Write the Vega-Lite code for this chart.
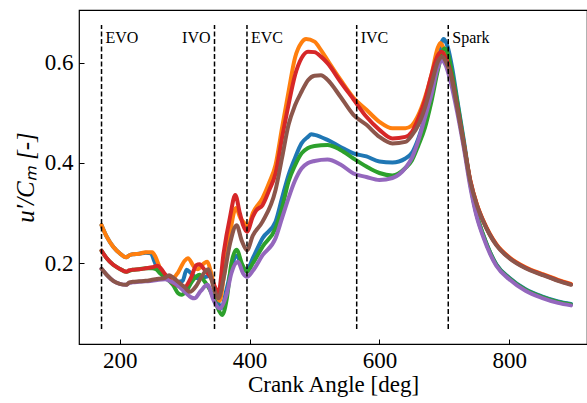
{
  "$schema": "https://vega.github.io/schema/vega-lite/v6.json",
  "autosize": "none",
  "width": 508,
  "height": 334,
  "padding": {"left": 79, "top": 10, "right": 0, "bottom": 59},
  "background": "white",
  "config": {
    "view": {"stroke": "#000", "strokeWidth": 1.2},
    "font": "Liberation Serif",
    "axis": {"grid": false, "domain": false, "tickColor": "#000", "labelColor": "#000", "titleColor": "#000", "labelFont": "Liberation Serif", "titleFont": "Liberation Serif", "titleFontWeight": "normal", "tickSize": -5, "tickWidth": 1}
  },
  "datasets": {
    "curves": [
      {"s": "s1", "x": 172, "y": 0.276}, {"s": "s1", "x": 180, "y": 0.253}, {"s": "s1", "x": 190, "y": 0.233}, {"s": "s1", "x": 200, "y": 0.22}, {"s": "s1", "x": 210, "y": 0.212}, {"s": "s1", "x": 215, "y": 0.216}, {"s": "s1", "x": 220, "y": 0.218}, {"s": "s1", "x": 230, "y": 0.219}, {"s": "s1", "x": 240, "y": 0.221}, {"s": "s1", "x": 248, "y": 0.22}, {"s": "s1", "x": 253, "y": 0.205}, {"s": "s1", "x": 258, "y": 0.19}, {"s": "s1", "x": 265, "y": 0.178}, {"s": "s1", "x": 270, "y": 0.175}, {"s": "s1", "x": 280, "y": 0.17}, {"s": "s1", "x": 290, "y": 0.163}, {"s": "s1", "x": 297, "y": 0.165}, {"s": "s1", "x": 303, "y": 0.187}, {"s": "s1", "x": 310, "y": 0.18}, {"s": "s1", "x": 320, "y": 0.17}, {"s": "s1", "x": 330, "y": 0.172}, {"s": "s1", "x": 340, "y": 0.175}, {"s": "s1", "x": 348, "y": 0.14}, {"s": "s1", "x": 356, "y": 0.11}, {"s": "s1", "x": 365, "y": 0.15}, {"s": "s1", "x": 372, "y": 0.19}, {"s": "s1", "x": 380, "y": 0.215}, {"s": "s1", "x": 388, "y": 0.195}, {"s": "s1", "x": 396, "y": 0.187}, {"s": "s1", "x": 405, "y": 0.21}, {"s": "s1", "x": 420, "y": 0.25}, {"s": "s1", "x": 440, "y": 0.283}, {"s": "s1", "x": 450, "y": 0.33}, {"s": "s1", "x": 460, "y": 0.376}, {"s": "s1", "x": 470, "y": 0.41}, {"s": "s1", "x": 480, "y": 0.439}, {"s": "s1", "x": 490, "y": 0.452}, {"s": "s1", "x": 495, "y": 0.457}, {"s": "s1", "x": 500, "y": 0.456}, {"s": "s1", "x": 520, "y": 0.446}, {"s": "s1", "x": 540, "y": 0.432}, {"s": "s1", "x": 560, "y": 0.419}, {"s": "s1", "x": 580, "y": 0.413}, {"s": "s1", "x": 600, "y": 0.403}, {"s": "s1", "x": 620, "y": 0.401}, {"s": "s1", "x": 640, "y": 0.409}, {"s": "s1", "x": 650, "y": 0.42}, {"s": "s1", "x": 660, "y": 0.449}, {"s": "s1", "x": 670, "y": 0.49}, {"s": "s1", "x": 680, "y": 0.542}, {"s": "s1", "x": 690, "y": 0.61}, {"s": "s1", "x": 699, "y": 0.647}, {"s": "s1", "x": 705, "y": 0.632}, {"s": "s1", "x": 712, "y": 0.59}, {"s": "s1", "x": 720, "y": 0.525}, {"s": "s1", "x": 730, "y": 0.445}, {"s": "s1", "x": 740, "y": 0.36}, {"s": "s1", "x": 750, "y": 0.296}, {"s": "s1", "x": 760, "y": 0.256}, {"s": "s1", "x": 780, "y": 0.198}, {"s": "s1", "x": 800, "y": 0.171}, {"s": "s1", "x": 825, "y": 0.148}, {"s": "s1", "x": 850, "y": 0.134}, {"s": "s1", "x": 875, "y": 0.124}, {"s": "s1", "x": 895, "y": 0.119},

      {"s": "s2", "x": 172, "y": 0.276}, {"s": "s2", "x": 180, "y": 0.253}, {"s": "s2", "x": 190, "y": 0.233}, {"s": "s2", "x": 200, "y": 0.22}, {"s": "s2", "x": 210, "y": 0.212}, {"s": "s2", "x": 215, "y": 0.216}, {"s": "s2", "x": 220, "y": 0.218}, {"s": "s2", "x": 230, "y": 0.219}, {"s": "s2", "x": 240, "y": 0.222}, {"s": "s2", "x": 250, "y": 0.222}, {"s": "s2", "x": 255, "y": 0.213}, {"s": "s2", "x": 260, "y": 0.197}, {"s": "s2", "x": 265, "y": 0.182}, {"s": "s2", "x": 270, "y": 0.176}, {"s": "s2", "x": 280, "y": 0.168}, {"s": "s2", "x": 290, "y": 0.182}, {"s": "s2", "x": 300, "y": 0.205}, {"s": "s2", "x": 305, "y": 0.21}, {"s": "s2", "x": 315, "y": 0.192}, {"s": "s2", "x": 320, "y": 0.188}, {"s": "s2", "x": 330, "y": 0.2}, {"s": "s2", "x": 335, "y": 0.203}, {"s": "s2", "x": 340, "y": 0.185}, {"s": "s2", "x": 348, "y": 0.14}, {"s": "s2", "x": 354, "y": 0.125}, {"s": "s2", "x": 360, "y": 0.17}, {"s": "s2", "x": 370, "y": 0.26}, {"s": "s2", "x": 379, "y": 0.31}, {"s": "s2", "x": 386, "y": 0.29}, {"s": "s2", "x": 392, "y": 0.28}, {"s": "s2", "x": 398, "y": 0.274}, {"s": "s2", "x": 405, "y": 0.3}, {"s": "s2", "x": 420, "y": 0.33}, {"s": "s2", "x": 430, "y": 0.36}, {"s": "s2", "x": 440, "y": 0.396}, {"s": "s2", "x": 450, "y": 0.47}, {"s": "s2", "x": 460, "y": 0.542}, {"s": "s2", "x": 470, "y": 0.61}, {"s": "s2", "x": 480, "y": 0.64}, {"s": "s2", "x": 487, "y": 0.647}, {"s": "s2", "x": 500, "y": 0.642}, {"s": "s2", "x": 510, "y": 0.625}, {"s": "s2", "x": 520, "y": 0.605}, {"s": "s2", "x": 540, "y": 0.566}, {"s": "s2", "x": 560, "y": 0.53}, {"s": "s2", "x": 580, "y": 0.506}, {"s": "s2", "x": 600, "y": 0.482}, {"s": "s2", "x": 620, "y": 0.469}, {"s": "s2", "x": 640, "y": 0.469}, {"s": "s2", "x": 650, "y": 0.475}, {"s": "s2", "x": 660, "y": 0.496}, {"s": "s2", "x": 670, "y": 0.53}, {"s": "s2", "x": 680, "y": 0.575}, {"s": "s2", "x": 690, "y": 0.63}, {"s": "s2", "x": 694, "y": 0.639}, {"s": "s2", "x": 700, "y": 0.625}, {"s": "s2", "x": 710, "y": 0.58}, {"s": "s2", "x": 720, "y": 0.511}, {"s": "s2", "x": 730, "y": 0.438}, {"s": "s2", "x": 740, "y": 0.365}, {"s": "s2", "x": 750, "y": 0.318}, {"s": "s2", "x": 760, "y": 0.285}, {"s": "s2", "x": 780, "y": 0.238}, {"s": "s2", "x": 800, "y": 0.212}, {"s": "s2", "x": 825, "y": 0.192}, {"s": "s2", "x": 850, "y": 0.179}, {"s": "s2", "x": 875, "y": 0.167}, {"s": "s2", "x": 895, "y": 0.159},

      {"s": "s3", "x": 172, "y": 0.225}, {"s": "s3", "x": 180, "y": 0.21}, {"s": "s3", "x": 190, "y": 0.197}, {"s": "s3", "x": 200, "y": 0.189}, {"s": "s3", "x": 210, "y": 0.183}, {"s": "s3", "x": 220, "y": 0.187}, {"s": "s3", "x": 230, "y": 0.188}, {"s": "s3", "x": 240, "y": 0.19}, {"s": "s3", "x": 250, "y": 0.19}, {"s": "s3", "x": 256, "y": 0.188}, {"s": "s3", "x": 262, "y": 0.18}, {"s": "s3", "x": 270, "y": 0.172}, {"s": "s3", "x": 282, "y": 0.157}, {"s": "s3", "x": 290, "y": 0.14}, {"s": "s3", "x": 295, "y": 0.137}, {"s": "s3", "x": 303, "y": 0.145}, {"s": "s3", "x": 311, "y": 0.163}, {"s": "s3", "x": 323, "y": 0.177}, {"s": "s3", "x": 330, "y": 0.165}, {"s": "s3", "x": 339, "y": 0.147}, {"s": "s3", "x": 348, "y": 0.12}, {"s": "s3", "x": 358, "y": 0.097}, {"s": "s3", "x": 365, "y": 0.13}, {"s": "s3", "x": 372, "y": 0.2}, {"s": "s3", "x": 380, "y": 0.227}, {"s": "s3", "x": 388, "y": 0.2}, {"s": "s3", "x": 396, "y": 0.183}, {"s": "s3", "x": 405, "y": 0.2}, {"s": "s3", "x": 420, "y": 0.233}, {"s": "s3", "x": 440, "y": 0.27}, {"s": "s3", "x": 450, "y": 0.31}, {"s": "s3", "x": 460, "y": 0.363}, {"s": "s3", "x": 470, "y": 0.395}, {"s": "s3", "x": 480, "y": 0.419}, {"s": "s3", "x": 490, "y": 0.43}, {"s": "s3", "x": 500, "y": 0.434}, {"s": "s3", "x": 520, "y": 0.436}, {"s": "s3", "x": 540, "y": 0.426}, {"s": "s3", "x": 560, "y": 0.409}, {"s": "s3", "x": 580, "y": 0.393}, {"s": "s3", "x": 600, "y": 0.38}, {"s": "s3", "x": 620, "y": 0.375}, {"s": "s3", "x": 640, "y": 0.39}, {"s": "s3", "x": 650, "y": 0.405}, {"s": "s3", "x": 660, "y": 0.435}, {"s": "s3", "x": 670, "y": 0.47}, {"s": "s3", "x": 680, "y": 0.522}, {"s": "s3", "x": 690, "y": 0.585}, {"s": "s3", "x": 700, "y": 0.628}, {"s": "s3", "x": 705, "y": 0.62}, {"s": "s3", "x": 712, "y": 0.578}, {"s": "s3", "x": 720, "y": 0.52}, {"s": "s3", "x": 730, "y": 0.44}, {"s": "s3", "x": 740, "y": 0.358}, {"s": "s3", "x": 750, "y": 0.296}, {"s": "s3", "x": 760, "y": 0.256}, {"s": "s3", "x": 780, "y": 0.197}, {"s": "s3", "x": 800, "y": 0.17}, {"s": "s3", "x": 825, "y": 0.147}, {"s": "s3", "x": 850, "y": 0.133}, {"s": "s3", "x": 875, "y": 0.123}, {"s": "s3", "x": 895, "y": 0.118},

      {"s": "s4", "x": 172, "y": 0.225}, {"s": "s4", "x": 180, "y": 0.21}, {"s": "s4", "x": 190, "y": 0.197}, {"s": "s4", "x": 200, "y": 0.189}, {"s": "s4", "x": 210, "y": 0.183}, {"s": "s4", "x": 215, "y": 0.186}, {"s": "s4", "x": 220, "y": 0.187}, {"s": "s4", "x": 230, "y": 0.188}, {"s": "s4", "x": 240, "y": 0.19}, {"s": "s4", "x": 250, "y": 0.192}, {"s": "s4", "x": 258, "y": 0.195}, {"s": "s4", "x": 263, "y": 0.19}, {"s": "s4", "x": 270, "y": 0.178}, {"s": "s4", "x": 280, "y": 0.163}, {"s": "s4", "x": 290, "y": 0.155}, {"s": "s4", "x": 300, "y": 0.153}, {"s": "s4", "x": 310, "y": 0.172}, {"s": "s4", "x": 318, "y": 0.196}, {"s": "s4", "x": 323, "y": 0.198}, {"s": "s4", "x": 330, "y": 0.188}, {"s": "s4", "x": 340, "y": 0.172}, {"s": "s4", "x": 346, "y": 0.155}, {"s": "s4", "x": 352, "y": 0.14}, {"s": "s4", "x": 360, "y": 0.22}, {"s": "s4", "x": 370, "y": 0.293}, {"s": "s4", "x": 378, "y": 0.336}, {"s": "s4", "x": 385, "y": 0.3}, {"s": "s4", "x": 390, "y": 0.276}, {"s": "s4", "x": 396, "y": 0.263}, {"s": "s4", "x": 405, "y": 0.293}, {"s": "s4", "x": 410, "y": 0.305}, {"s": "s4", "x": 420, "y": 0.316}, {"s": "s4", "x": 430, "y": 0.345}, {"s": "s4", "x": 440, "y": 0.379}, {"s": "s4", "x": 450, "y": 0.45}, {"s": "s4", "x": 460, "y": 0.516}, {"s": "s4", "x": 470, "y": 0.575}, {"s": "s4", "x": 480, "y": 0.609}, {"s": "s4", "x": 490, "y": 0.622}, {"s": "s4", "x": 500, "y": 0.621}, {"s": "s4", "x": 510, "y": 0.612}, {"s": "s4", "x": 520, "y": 0.599}, {"s": "s4", "x": 540, "y": 0.562}, {"s": "s4", "x": 560, "y": 0.527}, {"s": "s4", "x": 580, "y": 0.492}, {"s": "s4", "x": 600, "y": 0.466}, {"s": "s4", "x": 620, "y": 0.449}, {"s": "s4", "x": 640, "y": 0.452}, {"s": "s4", "x": 650, "y": 0.462}, {"s": "s4", "x": 660, "y": 0.489}, {"s": "s4", "x": 670, "y": 0.525}, {"s": "s4", "x": 680, "y": 0.575}, {"s": "s4", "x": 690, "y": 0.615}, {"s": "s4", "x": 696, "y": 0.622}, {"s": "s4", "x": 702, "y": 0.61}, {"s": "s4", "x": 710, "y": 0.578}, {"s": "s4", "x": 720, "y": 0.51}, {"s": "s4", "x": 730, "y": 0.437}, {"s": "s4", "x": 740, "y": 0.364}, {"s": "s4", "x": 750, "y": 0.317}, {"s": "s4", "x": 760, "y": 0.284}, {"s": "s4", "x": 780, "y": 0.237}, {"s": "s4", "x": 800, "y": 0.211}, {"s": "s4", "x": 825, "y": 0.191}, {"s": "s4", "x": 850, "y": 0.178}, {"s": "s4", "x": 875, "y": 0.166}, {"s": "s4", "x": 895, "y": 0.158},

      {"s": "s5", "x": 172, "y": 0.189}, {"s": "s5", "x": 180, "y": 0.177}, {"s": "s5", "x": 190, "y": 0.165}, {"s": "s5", "x": 200, "y": 0.159}, {"s": "s5", "x": 210, "y": 0.157}, {"s": "s5", "x": 215, "y": 0.161}, {"s": "s5", "x": 220, "y": 0.162}, {"s": "s5", "x": 230, "y": 0.163}, {"s": "s5", "x": 240, "y": 0.164}, {"s": "s5", "x": 250, "y": 0.165}, {"s": "s5", "x": 260, "y": 0.167}, {"s": "s5", "x": 270, "y": 0.168}, {"s": "s5", "x": 280, "y": 0.163}, {"s": "s5", "x": 290, "y": 0.155}, {"s": "s5", "x": 300, "y": 0.143}, {"s": "s5", "x": 310, "y": 0.132}, {"s": "s5", "x": 315, "y": 0.13}, {"s": "s5", "x": 325, "y": 0.145}, {"s": "s5", "x": 335, "y": 0.157}, {"s": "s5", "x": 345, "y": 0.125}, {"s": "s5", "x": 354, "y": 0.11}, {"s": "s5", "x": 365, "y": 0.14}, {"s": "s5", "x": 372, "y": 0.18}, {"s": "s5", "x": 382, "y": 0.203}, {"s": "s5", "x": 390, "y": 0.18}, {"s": "s5", "x": 396, "y": 0.173}, {"s": "s5", "x": 405, "y": 0.185}, {"s": "s5", "x": 420, "y": 0.216}, {"s": "s5", "x": 440, "y": 0.25}, {"s": "s5", "x": 450, "y": 0.29}, {"s": "s5", "x": 460, "y": 0.33}, {"s": "s5", "x": 470, "y": 0.365}, {"s": "s5", "x": 480, "y": 0.389}, {"s": "s5", "x": 490, "y": 0.4}, {"s": "s5", "x": 500, "y": 0.404}, {"s": "s5", "x": 520, "y": 0.407}, {"s": "s5", "x": 540, "y": 0.397}, {"s": "s5", "x": 560, "y": 0.379}, {"s": "s5", "x": 580, "y": 0.372}, {"s": "s5", "x": 600, "y": 0.366}, {"s": "s5", "x": 620, "y": 0.37}, {"s": "s5", "x": 640, "y": 0.39}, {"s": "s5", "x": 650, "y": 0.41}, {"s": "s5", "x": 660, "y": 0.445}, {"s": "s5", "x": 670, "y": 0.49}, {"s": "s5", "x": 680, "y": 0.536}, {"s": "s5", "x": 690, "y": 0.59}, {"s": "s5", "x": 696, "y": 0.605}, {"s": "s5", "x": 702, "y": 0.595}, {"s": "s5", "x": 710, "y": 0.56}, {"s": "s5", "x": 720, "y": 0.5}, {"s": "s5", "x": 730, "y": 0.43}, {"s": "s5", "x": 740, "y": 0.352}, {"s": "s5", "x": 750, "y": 0.292}, {"s": "s5", "x": 760, "y": 0.252}, {"s": "s5", "x": 780, "y": 0.195}, {"s": "s5", "x": 800, "y": 0.168}, {"s": "s5", "x": 825, "y": 0.145}, {"s": "s5", "x": 850, "y": 0.131}, {"s": "s5", "x": 875, "y": 0.121}, {"s": "s5", "x": 895, "y": 0.116},

      {"s": "s6", "x": 172, "y": 0.189}, {"s": "s6", "x": 180, "y": 0.177}, {"s": "s6", "x": 190, "y": 0.165}, {"s": "s6", "x": 200, "y": 0.159}, {"s": "s6", "x": 210, "y": 0.157}, {"s": "s6", "x": 215, "y": 0.162}, {"s": "s6", "x": 220, "y": 0.163}, {"s": "s6", "x": 230, "y": 0.164}, {"s": "s6", "x": 240, "y": 0.165}, {"s": "s6", "x": 250, "y": 0.167}, {"s": "s6", "x": 260, "y": 0.169}, {"s": "s6", "x": 270, "y": 0.171}, {"s": "s6", "x": 276, "y": 0.176}, {"s": "s6", "x": 282, "y": 0.172}, {"s": "s6", "x": 290, "y": 0.163}, {"s": "s6", "x": 300, "y": 0.152}, {"s": "s6", "x": 308, "y": 0.143}, {"s": "s6", "x": 318, "y": 0.155}, {"s": "s6", "x": 326, "y": 0.173}, {"s": "s6", "x": 336, "y": 0.188}, {"s": "s6", "x": 345, "y": 0.15}, {"s": "s6", "x": 352, "y": 0.13}, {"s": "s6", "x": 360, "y": 0.17}, {"s": "s6", "x": 370, "y": 0.24}, {"s": "s6", "x": 380, "y": 0.276}, {"s": "s6", "x": 388, "y": 0.245}, {"s": "s6", "x": 396, "y": 0.226}, {"s": "s6", "x": 405, "y": 0.255}, {"s": "s6", "x": 420, "y": 0.283}, {"s": "s6", "x": 440, "y": 0.346}, {"s": "s6", "x": 450, "y": 0.41}, {"s": "s6", "x": 460, "y": 0.476}, {"s": "s6", "x": 470, "y": 0.515}, {"s": "s6", "x": 480, "y": 0.542}, {"s": "s6", "x": 490, "y": 0.565}, {"s": "s6", "x": 500, "y": 0.574}, {"s": "s6", "x": 510, "y": 0.575}, {"s": "s6", "x": 520, "y": 0.566}, {"s": "s6", "x": 540, "y": 0.532}, {"s": "s6", "x": 560, "y": 0.496}, {"s": "s6", "x": 580, "y": 0.476}, {"s": "s6", "x": 600, "y": 0.452}, {"s": "s6", "x": 620, "y": 0.439}, {"s": "s6", "x": 640, "y": 0.442}, {"s": "s6", "x": 650, "y": 0.455}, {"s": "s6", "x": 660, "y": 0.476}, {"s": "s6", "x": 670, "y": 0.51}, {"s": "s6", "x": 680, "y": 0.556}, {"s": "s6", "x": 690, "y": 0.602}, {"s": "s6", "x": 697, "y": 0.612}, {"s": "s6", "x": 703, "y": 0.6}, {"s": "s6", "x": 710, "y": 0.575}, {"s": "s6", "x": 720, "y": 0.509}, {"s": "s6", "x": 730, "y": 0.436}, {"s": "s6", "x": 740, "y": 0.363}, {"s": "s6", "x": 750, "y": 0.316}, {"s": "s6", "x": 760, "y": 0.283}, {"s": "s6", "x": 780, "y": 0.236}, {"s": "s6", "x": 800, "y": 0.21}, {"s": "s6", "x": 825, "y": 0.19}, {"s": "s6", "x": 850, "y": 0.177}, {"s": "s6", "x": 875, "y": 0.165}, {"s": "s6", "x": 895, "y": 0.157}
    ],
    "events": [
      {"name": "EVO", "angle": 172},
      {"name": "IVO", "angle": 346},
      {"name": "EVC", "angle": 396},
      {"name": "IVC", "angle": 565},
      {"name": "Spark", "angle": 706}
    ]
  },
  "layer": [
    {
      "data": {"name": "curves"},
      "mark": {"type": "line", "strokeWidth": 4, "interpolate": "monotone", "strokeCap": "round", "strokeJoin": "round"},
      "encoding": {
        "x": {"field": "x", "type": "quantitative", "scale": {"domain": [137.3, 919.7], "nice": false, "zero": false},
          "axis": {"values": [200, 400, 600, 800], "title": "Crank Angle [deg]", "titleFontSize": 23, "labelFontSize": 23, "labelPadding": 10, "titlePadding": 1}},
        "y": {"field": "y", "type": "quantitative", "scale": {"domain": [0.039, 0.705], "nice": false, "zero": false},
          "axis": {"values": [0.2, 0.4, 0.6], "format": ".1f", "title": "u′/Cₘ [-]", "titleFontSize": 25, "titleFontStyle": "italic", "labelFontSize": 23, "labelPadding": 11, "titlePadding": 6}},
        "color": {"field": "s", "type": "nominal", "legend": null,
          "scale": {"domain": ["s1", "s2", "s3", "s4", "s5", "s6"], "range": ["#1f77b4", "#ff7f0e", "#2ca02c", "#d62728", "#9467bd", "#8c564b"]}}
      }
    },
    {
      "data": {"name": "events"},
      "mark": {"type": "rule", "strokeDash": [5, 2.5], "strokeWidth": 1.5, "color": "#000"},
      "encoding": {
        "x": {"field": "angle", "type": "quantitative"},
        "y": {"datum": 0.069},
        "y2": {"datum": 0.675}
      }
    },
    {
      "data": {"name": "events"},
      "transform": [{"filter": "datum.name !== 'IVO'"}],
      "mark": {"type": "text", "align": "left", "baseline": "middle", "dx": 4, "fontSize": 16, "font": "Liberation Serif", "color": "#000"},
      "encoding": {
        "x": {"field": "angle", "type": "quantitative"},
        "y": {"datum": 0.649},
        "text": {"field": "name"}
      }
    },
    {
      "data": {"name": "events"},
      "transform": [{"filter": "datum.name === 'IVO'"}],
      "mark": {"type": "text", "align": "right", "baseline": "middle", "dx": -4, "fontSize": 16, "font": "Liberation Serif", "color": "#000"},
      "encoding": {
        "x": {"field": "angle", "type": "quantitative"},
        "y": {"datum": 0.649},
        "text": {"field": "name"}
      }
    }
  ]
}
